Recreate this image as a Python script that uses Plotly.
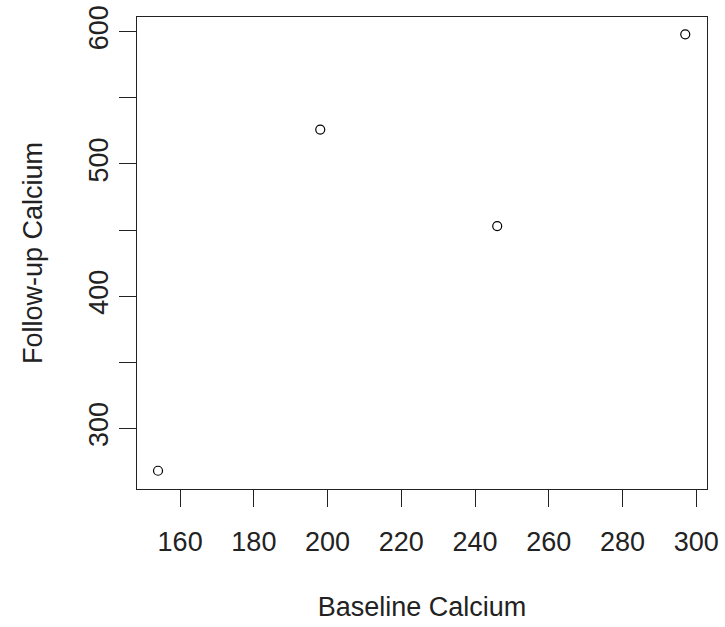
import plotly.graph_objects as go

baseline_calcium = [154, 198, 246, 297]
followup_calcium = [268, 526, 453, 598]
x_ticks = [160, 180, 200, 220, 240, 260, 280, 300]
y_ticks = [300, 350, 400, 450, 500, 550, 600]
y_tick_text = ["300", "", "400", "", "500", "", "600"]

FONT = "Liberation Sans, Arial, sans-serif"

fig = go.Figure(
    go.Scatter(
        x=baseline_calcium,
        y=followup_calcium,
        mode="markers",
        marker=dict(symbol="circle-open", size=9, color="black", line=dict(width=1.2, color="black")),
        showlegend=False,
    )
)

axis_common = dict(
    showgrid=False,
    zeroline=False,
    showline=True,
    mirror=True,
    automargin=False,
    linecolor="#222222",
    linewidth=1.3,
    ticks="outside",
    ticklen=17,
    tickwidth=1.3,
    tickcolor="#222222",
    tickfont=dict(family=FONT, size=27, color="#222222"),
)

fig.update_layout(
    width=725,
    height=627,
    margin=dict(l=137, r=18, t=17, b=138),
    paper_bgcolor="white",
    plot_bgcolor="white",
    font=dict(family=FONT, color="#222222"),
    xaxis=dict(
        axis_common,
        range=[148.3, 302.9],
        tickmode="array",
        tickvals=x_ticks,
        ticktext=[str(v) for v in x_ticks],
        ticklabelstandoff=11,
        title=dict(text="Baseline Calcium", font=dict(family=FONT, size=27, color="#222222"), standoff=41),
    ),
    yaxis=dict(
        axis_common,
        range=[254.2, 611.1],
        tickmode="array",
        tickvals=y_ticks,
        ticktext=y_tick_text,
        tickangle=-90,
        ticklabelstandoff=0,
        title=dict(text="Follow-up Calcium", font=dict(family=FONT, size=27, color="#222222"), standoff=33),
    ),
)

fig.write_html(
    "out.html",
    config={"displayModeBar": False},
    post_script="document.body.style.margin='0';document.body.style.overflow='hidden';",
)
